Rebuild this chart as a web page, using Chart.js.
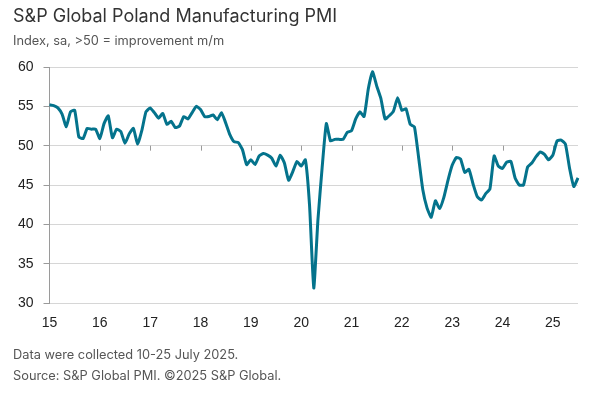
<!DOCTYPE html>
<html>
<head>
<meta charset="utf-8">
<script src="https://cdn.jsdelivr.net/npm/chart.js@4.4.0/dist/chart.umd.min.js"></script>
<style>
  html, body { margin: 0; padding: 0; background: #fff; }
  body { width: 596px; height: 398px; position: relative; overflow: hidden; font-family: "Liberation Sans", Arial, sans-serif; }
  #wrap { position: absolute; left: 0; top: 0; width: 596px; height: 398px; }
  .txt { position: absolute; left: 13px; white-space: nowrap; font-family: Inter, "Liberation Sans", sans-serif; }
  #title { top: 5px; font-size: 18px; color: #333; }
  #sub { top: 33px; font-size: 12.8px; color: #555; }
  #note1 { top: 347px; font-size: 12.8px; color: #555; }
  #note2 { top: 368px; font-size: 12.8px; color: #555; }
</style>
</head>
<body>
<div id="wrap"><canvas id="pmi-chart" width="596" height="398"></canvas></div>
<div class="txt" id="title">S&amp;P Global Poland Manufacturing PMI</div>
<div class="txt" id="sub">Index, sa, &gt;50 = improvement m/m</div>
<div class="txt" id="note1">Data were collected 10-25 July 2025.</div>
<div class="txt" id="note2">Source: S&amp;P Global PMI. ©2025 S&amp;P Global.</div>
<script>
// Monthly PMI, Jan 2015 .. Jul 2025
const pmi2015 = [55.2, 55.1, 54.8, 54.0, 52.4, 54.3, 54.5, 51.1, 50.9, 52.2, 52.1, 52.1];
const pmi2016 = [50.9, 52.8, 53.8, 51.0, 52.1, 51.8, 50.3, 51.5, 52.2, 50.2, 51.9, 54.3];
const pmi2017 = [54.8, 54.2, 53.5, 54.1, 52.7, 53.1, 52.3, 52.5, 53.7, 53.4, 54.2, 55.0];
const pmi2018 = [54.6, 53.7, 53.7, 53.9, 53.3, 54.2, 52.9, 51.4, 50.5, 50.4, 49.5, 47.6];
const pmi2019 = [48.2, 47.6, 48.7, 49.0, 48.8, 48.4, 47.4, 48.8, 47.8, 45.6, 46.7, 48.0];
const pmi2020 = [47.4, 48.2, 42.4, 31.9, 40.6, 47.2, 52.8, 50.6, 50.8, 50.8, 50.8, 51.7];
const pmi2021 = [51.9, 53.4, 54.3, 53.7, 57.2, 59.4, 57.6, 56.0, 53.4, 53.8, 54.4, 56.1];
const pmi2022 = [54.5, 54.7, 52.7, 52.4, 48.5, 44.4, 42.1, 40.9, 43.0, 42.0, 43.4, 45.6];
const pmi2023 = [47.5, 48.5, 48.3, 46.6, 47.0, 45.1, 43.5, 43.1, 43.9, 44.5, 48.7, 47.4];
const pmi2024 = [47.1, 47.9, 48.0, 45.9, 45.0, 45.0, 47.3, 47.8, 48.6, 49.2, 48.9, 48.2];
const pmi2025 = [48.8, 50.6, 50.7, 50.2, 47.1, 44.8, 45.9];

const yearLabels = ["15", "16", "17", "18", "19", "20", "21", "22", "23", "24", "25"];
const yTicks = [30, 35, 40, 45, 50, 55, 60];

const values = [].concat(pmi2015, pmi2016, pmi2017, pmi2018, pmi2019, pmi2020,
                         pmi2021, pmi2022, pmi2023, pmi2024, pmi2025);
// month labels: year label on January, blank otherwise
const labels = values.map((v, i) => (i % 12 === 0 ? yearLabels[i / 12] : ""));

const lineColor = "#04738c";
const gridColor = "#d6d6d6";
const axisColor = "#9a9a9a";

// year tick marks hang from the 50 line
const yearTicksAt50 = {
    id: "yearTicksAt50",
    beforeDatasetsDraw(chart) {
        const { ctx, scales: { x, y } } = chart;
        const y50 = y.getPixelForValue(50);
        ctx.save();
        ctx.strokeStyle = axisColor;
        ctx.lineWidth = 1;
        labels.forEach((lab, i) => {
            if (!lab || i === 0) return;
            const px = Math.round(x.getPixelForValue(i)) + 0.5;
            ctx.beginPath();
            ctx.moveTo(px, y50);
            ctx.lineTo(px, y50 + 5);
            ctx.stroke();
        });
        ctx.restore();
    }
};

new Chart(document.getElementById("pmi-chart"), {
    type: "line",
    data: {
        labels,
        datasets: [{
            data: values,
            borderColor: lineColor,
            borderWidth: 3,
            pointRadius: 0,
            tension: 0.15,
            fill: false
        }]
    },
    options: {
        responsive: false,
        animation: false,
        events: [],
        layout: { padding: { top: 67, right: 18, bottom: 65, left: 0 } },
        plugins: { legend: { display: false }, tooltip: { enabled: false } },
        scales: {
            x: {
                offset: false,
                grid: { display: false, drawTicks: false },
                border: { display: false },
                ticks: {
                    autoSkip: false,
                    maxRotation: 0,
                    padding: 12,
                    color: "#222",
                    font: { family: "Liberation Sans", size: 14 }
                },
                afterFit(scale) { scale.height = 30; }
            },
            y: {
                min: 30,
                max: 60,
                afterBuildTicks(scale) { scale.ticks = yTicks.map(v => ({ value: v })); },
                grid: { color: gridColor, tickColor: axisColor, tickLength: 6 },
                border: { color: axisColor },
                ticks: {
                    padding: 10,
                    color: "#222",
                    font: { family: "Liberation Sans", size: 14 }
                },
                afterFit(scale) { scale.width = 49.5; }
            }
        }
    },
    plugins: [yearTicksAt50]
});
</script>
</body>
</html>
